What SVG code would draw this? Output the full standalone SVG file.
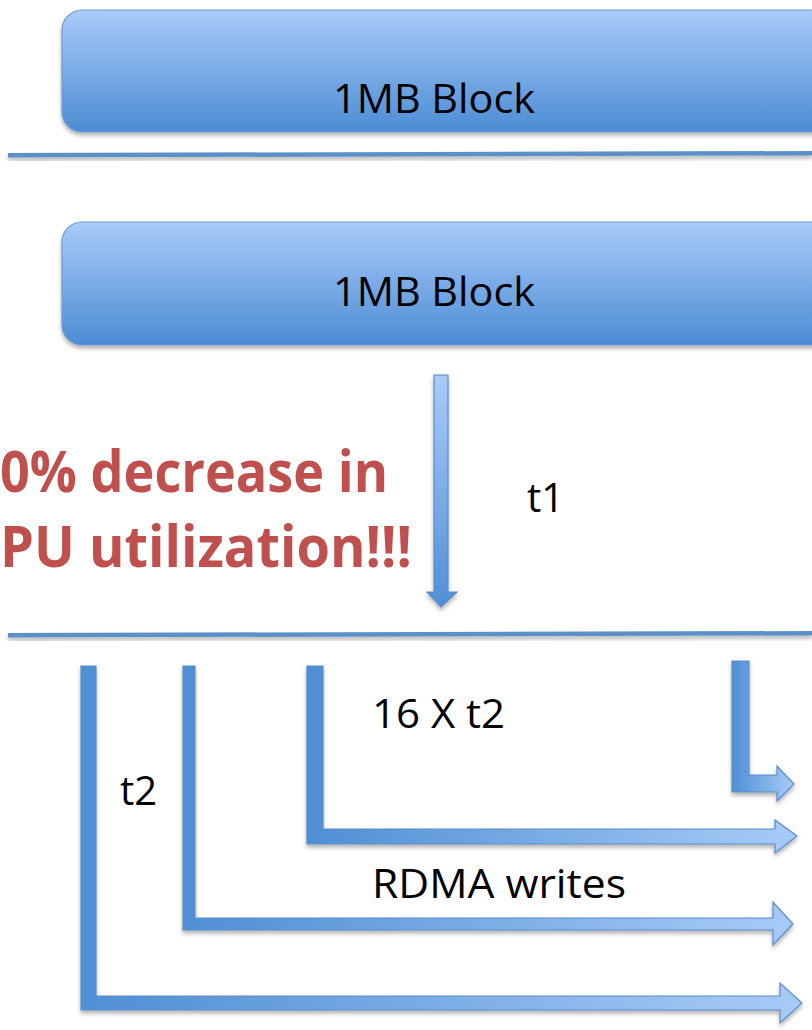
<svg xmlns="http://www.w3.org/2000/svg" width="812" height="1030" viewBox="0 0 812 1030">
  <defs>
    <linearGradient id="blockFill" x1="0" y1="0" x2="0" y2="1">
      <stop offset="0" stop-color="#a9cbf9"/>
      <stop offset="1" stop-color="#4c8cd4"/>
    </linearGradient>
    <linearGradient id="downFill" x1="0" y1="0" x2="0" y2="1">
      <stop offset="0" stop-color="#a9cbf9"/>
      <stop offset="1" stop-color="#4f8fd6"/>
    </linearGradient>
    <linearGradient id="gA" gradientUnits="userSpaceOnUse" x1="81" y1="0" x2="802" y2="0">
      <stop offset="0" stop-color="#4f8fd4"/>
      <stop offset="1" stop-color="#a8cbf8"/>
    </linearGradient>
    <linearGradient id="gB" gradientUnits="userSpaceOnUse" x1="183" y1="0" x2="793" y2="0">
      <stop offset="0" stop-color="#4f8fd4"/>
      <stop offset="1" stop-color="#a8cbf8"/>
    </linearGradient>
    <linearGradient id="gC" gradientUnits="userSpaceOnUse" x1="307" y1="0" x2="797" y2="0">
      <stop offset="0" stop-color="#4f8fd4"/>
      <stop offset="1" stop-color="#a8cbf8"/>
    </linearGradient>
    <linearGradient id="gD" gradientUnits="userSpaceOnUse" x1="732" y1="0" x2="794" y2="0">
      <stop offset="0" stop-color="#4f8fd4"/>
      <stop offset="1" stop-color="#a8cbf8"/>
    </linearGradient>
    <filter id="shadow" x="-10%" y="-20%" width="120%" height="160%">
      <feDropShadow dx="0" dy="3" stdDeviation="2" flood-color="#000" flood-opacity="0.3"/>
    </filter>
  </defs>
  <style>
    .block { fill: url(#blockFill); stroke: #6d9bd0; stroke-width: 1.2; filter: url(#shadow); }
    .rule { fill: #5d90c8; filter: url(#shadow); }
    .arrow { stroke: #5b8cc8; stroke-width: 1.2; stroke-linejoin: miter; filter: url(#shadow); }
    .label { font-family: "Open Sans", "Noto Sans", sans-serif; font-size: 40px; fill: #000; }
    .note { font-family: "Open Sans", "Noto Sans", sans-serif; font-size: 58px; font-weight: bold; fill: #c0504d; }
  </style>

  <rect width="812" height="1030" fill="#fff"/>

  <!-- blocks -->
  <g id="block-top">
    <rect class="block" x="62" y="10" width="780" height="122" rx="20" ry="20"/>
    <text class="label" x="333" y="113" textLength="202" lengthAdjust="spacingAndGlyphs">1MB Block</text>
  </g>
  <g id="block-bottom">
    <rect class="block" x="62" y="222" width="780" height="123" rx="20" ry="20"/>
    <text class="label" x="333" y="306" textLength="202" lengthAdjust="spacingAndGlyphs">1MB Block</text>
  </g>

  <!-- separators -->
  <g id="separators">
    <polygon class="rule" points="8,153 812,151 812,155.5 8,157.5"/>
    <polygon class="rule" points="8,633 812,631 812,635.5 8,637.5"/>
  </g>

  <!-- note -->
  <g id="note">
    <text class="note" x="0" y="492" textLength="388" lengthAdjust="spacingAndGlyphs">0% decrease in</text>
    <text class="note" x="0" y="567" textLength="412" lengthAdjust="spacingAndGlyphs">PU utilization!!!</text>
  </g>

  <!-- connectors -->
  <g id="connectors">
    <path class="arrow" fill="url(#downFill)" d="M434,375 H448 V592 H457 L441,607 L427,592 H434 Z"/>
    <path class="arrow" fill="url(#gA)" d="M81,666 H96 V996 H780 V983 L802,1003 L780,1023 V1010 H81 Z"/>
    <path class="arrow" fill="url(#gB)" d="M183,666 H195 V918 H773 V902 L793,924 L773,945 V930 H183 Z"/>
    <path class="arrow" fill="url(#gC)" d="M307,666 H323 V829 H775 V820 L797,836 L775,853 V844 H307 Z"/>
    <path class="arrow" fill="url(#gD)" d="M732,661 H749 V775 H777 V766 L794,784 L777,801 V792 H732 Z"/>
  </g>

  <!-- timing labels -->
  <g id="label-t1"><text class="label" x="527" y="512">t1</text></g>
  <g id="label-t2"><text class="label" x="120" y="805">t2</text></g>
  <g id="label-16xt2"><text class="label" x="372" y="728" textLength="133" lengthAdjust="spacingAndGlyphs">16 X t2</text></g>
  <g id="label-rdma"><text class="label" x="372" y="898" textLength="254" lengthAdjust="spacingAndGlyphs">RDMA writes</text></g>
</svg>
